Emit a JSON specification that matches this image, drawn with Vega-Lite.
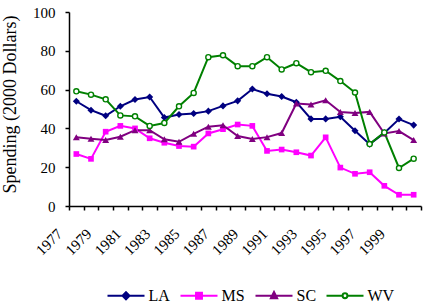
{
  "$schema": "https://vega.github.io/schema/vega-lite/v6.json",
  "width": 352,
  "height": 194,
  "autosize": {"type": "none"},
  "padding": {"left": 69, "top": 12, "right": 4, "bottom": 99},
  "config": {
    "view": {"stroke": null},
    "font": "Liberation Serif",
    "axis": {
      "grid": false,
      "domainColor": "#000000",
      "tickColor": "#000000",
      "labelColor": "#000000",
      "titleColor": "#000000",
      "labelFont": "Liberation Serif",
      "titleFont": "Liberation Serif",
      "labelFontSize": 15,
      "titleFontSize": 18,
      "titleFontWeight": "normal",
      "tickSize": 4,
      "domainWidth": 1.5,
      "tickWidth": 1.5
    },
    "axisY": {"labelOverlap": false}
  },
  "data": {
    "values": [
      {"year": 1977, "state": "LA", "value": 54.0},
      {"year": 1978, "state": "LA", "value": 49.4},
      {"year": 1979, "state": "LA", "value": 46.5},
      {"year": 1980, "state": "LA", "value": 51.4},
      {"year": 1981, "state": "LA", "value": 54.9},
      {"year": 1982, "state": "LA", "value": 56.2},
      {"year": 1983, "state": "LA", "value": 45.6},
      {"year": 1984, "state": "LA", "value": 47.2},
      {"year": 1985, "state": "LA", "value": 47.7},
      {"year": 1986, "state": "LA", "value": 48.9},
      {"year": 1987, "state": "LA", "value": 51.6},
      {"year": 1988, "state": "LA", "value": 54.2},
      {"year": 1989, "state": "LA", "value": 60.3},
      {"year": 1990, "state": "LA", "value": 57.9},
      {"year": 1991, "state": "LA", "value": 56.4},
      {"year": 1992, "state": "LA", "value": 53.5},
      {"year": 1993, "state": "LA", "value": 44.9},
      {"year": 1994, "state": "LA", "value": 44.9},
      {"year": 1995, "state": "LA", "value": 46.0},
      {"year": 1996, "state": "LA", "value": 38.8},
      {"year": 1997, "state": "LA", "value": 31.9},
      {"year": 1998, "state": "LA", "value": 37.7},
      {"year": 1999, "state": "LA", "value": 44.8},
      {"year": 2000, "state": "LA", "value": 41.7},
      {"year": 1977, "state": "MS", "value": 26.8},
      {"year": 1978, "state": "MS", "value": 24.3},
      {"year": 1979, "state": "MS", "value": 38.3},
      {"year": 1980, "state": "MS", "value": 41.3},
      {"year": 1981, "state": "MS", "value": 40.0},
      {"year": 1982, "state": "MS", "value": 34.9},
      {"year": 1983, "state": "MS", "value": 32.6},
      {"year": 1984, "state": "MS", "value": 30.9},
      {"year": 1985, "state": "MS", "value": 30.6},
      {"year": 1986, "state": "MS", "value": 37.4},
      {"year": 1987, "state": "MS", "value": 39.6},
      {"year": 1988, "state": "MS", "value": 42.0},
      {"year": 1989, "state": "MS", "value": 41.3},
      {"year": 1990, "state": "MS", "value": 28.4},
      {"year": 1991, "state": "MS", "value": 29.1},
      {"year": 1992, "state": "MS", "value": 27.7},
      {"year": 1993, "state": "MS", "value": 26.0},
      {"year": 1994, "state": "MS", "value": 35.4},
      {"year": 1995, "state": "MS", "value": 19.8},
      {"year": 1996, "state": "MS", "value": 16.6},
      {"year": 1997, "state": "MS", "value": 17.4},
      {"year": 1998, "state": "MS", "value": 10.4},
      {"year": 1999, "state": "MS", "value": 5.8},
      {"year": 2000, "state": "MS", "value": 5.8},
      {"year": 1977, "state": "SC", "value": 35.4},
      {"year": 1978, "state": "SC", "value": 34.7},
      {"year": 1979, "state": "SC", "value": 34.0},
      {"year": 1980, "state": "SC", "value": 35.7},
      {"year": 1981, "state": "SC", "value": 39.1},
      {"year": 1982, "state": "SC", "value": 39.1},
      {"year": 1983, "state": "SC", "value": 34.4},
      {"year": 1984, "state": "SC", "value": 33.1},
      {"year": 1985, "state": "SC", "value": 37.2},
      {"year": 1986, "state": "SC", "value": 40.9},
      {"year": 1987, "state": "SC", "value": 41.6},
      {"year": 1988, "state": "SC", "value": 36.1},
      {"year": 1989, "state": "SC", "value": 34.5},
      {"year": 1990, "state": "SC", "value": 35.5},
      {"year": 1991, "state": "SC", "value": 37.6},
      {"year": 1992, "state": "SC", "value": 52.8},
      {"year": 1993, "state": "SC", "value": 52.3},
      {"year": 1994, "state": "SC", "value": 54.5},
      {"year": 1995, "state": "SC", "value": 48.5},
      {"year": 1996, "state": "SC", "value": 48.0},
      {"year": 1997, "state": "SC", "value": 48.5},
      {"year": 1998, "state": "SC", "value": 37.4},
      {"year": 1999, "state": "SC", "value": 38.6},
      {"year": 2000, "state": "SC", "value": 34.0},
      {"year": 1977, "state": "WV", "value": 59.1},
      {"year": 1978, "state": "WV", "value": 57.4},
      {"year": 1979, "state": "WV", "value": 55.0},
      {"year": 1980, "state": "WV", "value": 46.7},
      {"year": 1981, "state": "WV", "value": 46.2},
      {"year": 1982, "state": "WV", "value": 41.3},
      {"year": 1983, "state": "WV", "value": 42.8},
      {"year": 1984, "state": "WV", "value": 51.4},
      {"year": 1985, "state": "WV", "value": 58.3},
      {"year": 1986, "state": "WV", "value": 76.7},
      {"year": 1987, "state": "WV", "value": 77.7},
      {"year": 1988, "state": "WV", "value": 72.1},
      {"year": 1989, "state": "WV", "value": 72.1},
      {"year": 1990, "state": "WV", "value": 76.7},
      {"year": 1991, "state": "WV", "value": 70.4},
      {"year": 1992, "state": "WV", "value": 73.6},
      {"year": 1993, "state": "WV", "value": 69.0},
      {"year": 1994, "state": "WV", "value": 69.7},
      {"year": 1995, "state": "WV", "value": 64.4},
      {"year": 1996, "state": "WV", "value": 58.5},
      {"year": 1997, "state": "WV", "value": 31.9},
      {"year": 1998, "state": "WV", "value": 37.9},
      {"year": 1999, "state": "WV", "value": 19.6},
      {"year": 2000, "state": "WV", "value": 24.4}
    ]
  },
  "encoding": {
    "x": {
      "field": "year",
      "type": "ordinal",
      "bandPosition": 0.5,
      "scale": {"type": "band", "paddingInner": 0, "paddingOuter": 0},
      "axis": {
        "title": null,
        "tickBand": "extent",
        "labelAngle": -45,
        "labelAlign": "right",
        "labelBaseline": "top",
        "labelPadding": 16,
        "labelOffset": -22,
        "labelOverlap": false,
        "labelExpr": "datum.value % 2 == 1 ? datum.label : ''"
      }
    },
    "y": {
      "field": "value",
      "type": "quantitative",
      "scale": {"domain": [0, 100]},
      "axis": {
        "values": [0, 20, 40, 60, 80, 100],
        "labelOverlap": false,
        "title": "Spending (2000 Dollars)",
        "labelPadding": 10,
        "titleX": -59,
        "titleY": 92,
        "titleAlign": "center",
        "titleBaseline": "middle"
      }
    }
  },
  "layer": [
    {
      "mark": {"type": "line", "strokeWidth": 2},
      "encoding": {
        "color": {
          "field": "state",
          "type": "nominal",
          "scale": {"domain": ["LA", "MS", "SC", "WV"], "range": ["#000080", "#ff00ff", "#800080", "#008000"]},
          "legend": {
            "title": null, "orient": "none", "legendX": 37.5, "legendY": 264, "direction": "horizontal", "columns": 4,
            "symbolSize": 1369, "symbolStrokeWidth": 2, "symbolOpacity": 1,
            "labelFont": "Liberation Serif", "labelFontSize": 16, "labelColor": "#000000", "labelOffset": 3, "columnPadding": 6
          }
        }
      }
    },
    {
      "transform": [{"filter": "datum.state === 'LA'"}],
      "mark": {"type": "point", "shape": "diamond", "size": 50, "filled": true, "color": "#000080", "opacity": 1}
    },
    {
      "transform": [{"filter": "datum.state === 'MS'"}],
      "mark": {"type": "point", "shape": "square", "size": 32, "filled": true, "color": "#ff00ff", "opacity": 1}
    },
    {
      "transform": [{"filter": "datum.state === 'SC'"}],
      "mark": {"type": "point", "shape": "triangle-up", "size": 48, "filled": true, "color": "#800080", "opacity": 1}
    },
    {
      "transform": [{"filter": "datum.state === 'WV'"}],
      "mark": {"type": "point", "shape": "circle", "size": 26, "filled": true, "fill": "#ffffff", "stroke": "#008000", "strokeWidth": 1.4, "opacity": 1}
    },
    {
      "transform": [{"filter": "datum.value < 0"}],
      "mark": {"type": "point", "filled": true, "opacity": 1},
      "encoding": {
        "fill": {
          "field": "state",
          "type": "nominal",
          "scale": {"domain": ["LA", "MS", "SC", "WV"], "range": ["#000080", "#ff00ff", "#800080", "#ffffff"]},
          "legend": null
        },
        "shape": {
          "field": "state",
          "type": "nominal",
          "scale": {
            "domain": ["LA", "MS", "SC", "WV"],
            "range": [
              "M-1,0H1M0,-0.19L0.19,0L0,0.19L-0.19,0Z",
              "M-1,0H1M-0.16,-0.16H0.16V0.16H-0.16Z",
              "M-1,0H1M0,-0.2L0.17,0.14H-0.17Z",
              "M-1,0H-0.13M0.13,0H1M0.13,0A0.13,0.13 0 1,1 -0.13,0A0.13,0.13 0 1,1 0.13,0Z"
            ]
          },
          "legend": null
        }
      }
    }
  ]
}
